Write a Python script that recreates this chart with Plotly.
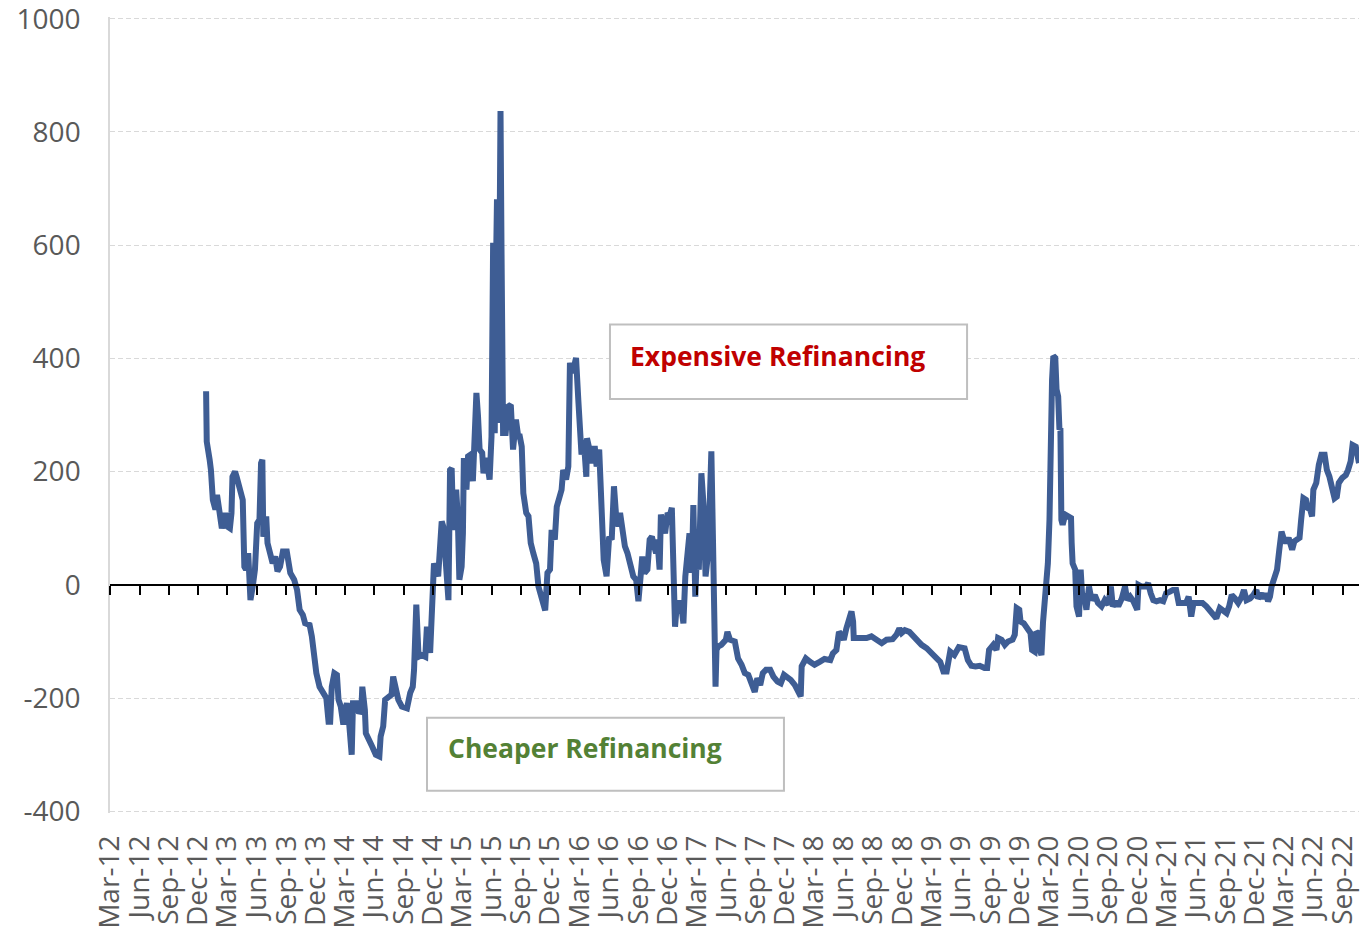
import pandas as pd
import plotly.graph_objects as go

# ---------------- data ----------------
dates = [
    "2012-12-25", "2012-12-27", "2013-01-05", "2013-01-09", "2013-01-15", "2013-01-23", "2013-01-28",
    "2013-02-05", "2013-02-12", "2013-02-23", "2013-03-01", "2013-03-09", "2013-03-14", "2013-03-17",
    "2013-03-25", "2013-03-30", "2013-04-07", "2013-04-18", "2013-04-23", "2013-04-28", "2013-05-05",
    "2013-05-12", "2013-05-19", "2013-05-26", "2013-06-02", "2013-06-09", "2013-06-14", "2013-06-18",
    "2013-06-21", "2013-06-30", "2013-07-04", "2013-07-12", "2013-07-20", "2013-07-28", "2013-08-04",
    "2013-08-12", "2013-08-21", "2013-09-02", "2013-09-07", "2013-09-13", "2013-09-25", "2013-10-04",
    "2013-10-12", "2013-10-22", "2013-10-29", "2013-11-12", "2013-11-19", "2013-11-24", "2013-12-03",
    "2013-12-13", "2013-12-25", "2014-01-03", "2014-01-10", "2014-01-15", "2014-01-20", "2014-01-28",
    "2014-02-05", "2014-02-10", "2014-02-17", "2014-02-25", "2014-03-01", "2014-03-08", "2014-03-15",
    "2014-03-23", "2014-03-27", "2014-04-07", "2014-04-15", "2014-04-22", "2014-04-25", "2014-05-03",
    "2014-05-06", "2014-05-18", "2014-05-26", "2014-06-06", "2014-06-17", "2014-06-21", "2014-06-29",
    "2014-07-05", "2014-07-18", "2014-07-25", "2014-07-30", "2014-08-08", "2014-08-15", "2014-08-26",
    "2014-09-11", "2014-09-21", "2014-09-29", "2014-10-03", "2014-10-10", "2014-10-17", "2014-10-27",
    "2014-11-07", "2014-11-12", "2014-11-22", "2014-11-27", "2014-12-04", "2014-12-17", "2014-12-28",
    "2015-01-02", "2015-01-10", "2015-01-18", "2015-01-23", "2015-01-28", "2015-02-02", "2015-02-11",
    "2015-02-16", "2015-02-21", "2015-02-28", "2015-03-04", "2015-03-07", "2015-03-15", "2015-03-20",
    "2015-03-28", "2015-04-04", "2015-04-10", "2015-04-15", "2015-04-20", "2015-04-25", "2015-05-03",
    "2015-05-07", "2015-05-16", "2015-05-26", "2015-06-01", "2015-06-06", "2015-06-09", "2015-06-11",
    "2015-06-15", "2015-06-18", "2015-06-22", "2015-06-25", "2015-06-29", "2015-07-02", "2015-07-07",
    "2015-07-15", "2015-07-23", "2015-07-31", "2015-08-07", "2015-08-16", "2015-08-23", "2015-08-28",
    "2015-09-03", "2015-09-08", "2015-09-17", "2015-09-24", "2015-10-01", "2015-10-09", "2015-10-18",
    "2015-10-25", "2015-11-04", "2015-11-15", "2015-11-22", "2015-11-30", "2015-12-05", "2015-12-15",
    "2015-12-21", "2015-12-29", "2016-01-05", "2016-01-10", "2016-01-19", "2016-01-26", "2016-01-31",
    "2016-02-08", "2016-02-19", "2016-02-26", "2016-03-04", "2016-03-07", "2016-03-14", "2016-03-22",
    "2016-03-24", "2016-04-02", "2016-04-10", "2016-04-17", "2016-04-23", "2016-05-01", "2016-05-05",
    "2016-05-11", "2016-05-15", "2016-05-24", "2016-06-01", "2016-06-09", "2016-06-16", "2016-06-22",
    "2016-06-30", "2016-07-05", "2016-07-13", "2016-07-20", "2016-07-28", "2016-08-05", "2016-08-15",
    "2016-08-24", "2016-08-31", "2016-09-06", "2016-09-12", "2016-09-19", "2016-09-28", "2016-10-05",
    "2016-10-12", "2016-10-19", "2016-10-25", "2016-10-29", "2016-11-05", "2016-11-09", "2016-11-15",
    "2016-11-22", "2016-11-30", "2016-12-06", "2016-12-13", "2016-12-16", "2016-12-23", "2016-12-29",
    "2017-01-08", "2017-01-13", "2017-01-18", "2017-01-24", "2017-01-31", "2017-02-06", "2017-02-13",
    "2017-02-18", "2017-02-24", "2017-03-01", "2017-03-07", "2017-03-15", "2017-03-22", "2017-03-28",
    "2017-04-05", "2017-04-15", "2017-04-20", "2017-04-23", "2017-04-28", "2017-05-01", "2017-05-06",
    "2017-05-16", "2017-05-30", "2017-06-04", "2017-06-12", "2017-06-27", "2017-07-07", "2017-07-18",
    "2017-07-28", "2017-08-08", "2017-08-18", "2017-08-28", "2017-09-05", "2017-09-14", "2017-09-22",
    "2017-10-02", "2017-10-15", "2017-10-25", "2017-11-07", "2017-11-17", "2017-11-27", "2017-12-07",
    "2017-12-18", "2017-12-31", "2018-01-10", "2018-01-18", "2018-01-21", "2018-02-03", "2018-02-16",
    "2018-03-02", "2018-03-18", "2018-04-02", "2018-04-20", "2018-04-28", "2018-05-09", "2018-05-17",
    "2018-05-24", "2018-06-01", "2018-06-09", "2018-06-17", "2018-06-25", "2018-06-30", "2018-07-02",
    "2018-07-21", "2018-08-11", "2018-08-26", "2018-09-11", "2018-09-27", "2018-10-12", "2018-10-31",
    "2018-11-12", "2018-11-21", "2018-11-28", "2018-12-08", "2018-12-22", "2019-01-03", "2019-01-15",
    "2019-01-29", "2019-02-14", "2019-03-01", "2019-03-15", "2019-03-28", "2019-04-07", "2019-04-17",
    "2019-04-28", "2019-05-11", "2019-05-25", "2019-06-12", "2019-06-22", "2019-07-03", "2019-07-16",
    "2019-07-29", "2019-08-13", "2019-08-21", "2019-08-27", "2019-09-09", "2019-09-19", "2019-09-24",
    "2019-10-05", "2019-10-15", "2019-10-25", "2019-11-08", "2019-11-15", "2019-11-21", "2019-11-29",
    "2019-12-03", "2019-12-13", "2019-12-26", "2020-01-03", "2020-01-08", "2020-01-16", "2020-01-21",
    "2020-01-26", "2020-02-01", "2020-02-06", "2020-02-11", "2020-02-16", "2020-02-21", "2020-02-26",
    "2020-03-02", "2020-03-07", "2020-03-10", "2020-03-14", "2020-03-20", "2020-03-24", "2020-03-29",
    "2020-04-02", "2020-04-05", "2020-04-08", "2020-04-12", "2020-04-20", "2020-05-01", "2020-05-08",
    "2020-05-10", "2020-05-13", "2020-05-21", "2020-05-25", "2020-06-02", "2020-06-07", "2020-06-13",
    "2020-06-17", "2020-06-25", "2020-07-03", "2020-07-11", "2020-07-21", "2020-07-31", "2020-08-11",
    "2020-08-21", "2020-09-01", "2020-09-09", "2020-09-15", "2020-09-25", "2020-10-02", "2020-10-13",
    "2020-10-23", "2020-10-30", "2020-11-08", "2020-11-18", "2020-11-30", "2020-12-04", "2020-12-14",
    "2020-12-27", "2021-01-03", "2021-01-11", "2021-01-19", "2021-01-29", "2021-02-09", "2021-02-19",
    "2021-02-28", "2021-03-12", "2021-03-21", "2021-03-31", "2021-04-08", "2021-04-19", "2021-05-01",
    "2021-05-09", "2021-05-17", "2021-05-24", "2021-06-07", "2021-06-21", "2021-07-03", "2021-07-16",
    "2021-07-24", "2021-08-03", "2021-08-14", "2021-08-24", "2021-09-04", "2021-09-12", "2021-09-20",
    "2021-09-30", "2021-10-10", "2021-10-21", "2021-10-28", "2021-11-05", "2021-11-16", "2021-11-26",
    "2021-12-06", "2021-12-11", "2021-12-22", "2021-12-29", "2022-01-04", "2022-01-11", "2022-01-17",
    "2022-01-22", "2022-02-01", "2022-02-08", "2022-02-15", "2022-02-22", "2022-02-28", "2022-03-08",
    "2022-03-16", "2022-03-27", "2022-04-03", "2022-04-10", "2022-04-19", "2022-04-24", "2022-05-01",
    "2022-05-09", "2022-05-14", "2022-05-22", "2022-05-28", "2022-06-01", "2022-06-10", "2022-06-18",
    "2022-06-26", "2022-07-06", "2022-07-13", "2022-07-21", "2022-07-30", "2022-08-06", "2022-08-13",
    "2022-08-19", "2022-08-30", "2022-09-10", "2022-09-17", "2022-09-25", "2022-10-01", "2022-10-11",
    "2022-10-21",
]

spread_bp = [
    342, 253, 221, 203, 150, 133, 159,
    121, 100, 127, 103, 100, 127, 191,
    200, 191, 174, 150, 32, 27, 56,
    -27, -3, 27, 109, 115, 215, 221,
    85, 121, 74, 56, 38, 50, 24,
    32, 59, 59, 41, 21, 9, -9,
    -44, -53, -68, -71, -91, -115, -156,
    -180, -189, -200, -242, -242, -180, -156,
    -159, -203, -215, -247, -227, -209, -244,
    -300, -209, -209, -227, -221, -180, -221,
    -262, -274, -286, -300, -303, -268, -250,
    -203, -197, -194, -162, -180, -203, -215,
    -218, -191, -180, -150, -35, -127, -124,
    -127, -74, -120, -40, 38, 15, 112,
    103, 40, -27, 203, 206, 97, 168,
    121, 9, 32, 91, 224, 168, 227,
    230, 183, 304, 339, 298, 239, 233,
    197, 224, 186, 262, 604, 300, 268,
    560, 681, 286, 600, 837, 598, 268,
    268, 315, 318, 239, 292, 262, 262,
    244, 162, 127, 121, 74, 56, 38,
    -3, -21, -45, 21, 27, 97, 80,
    138, 150, 168, 203, 186, 209, 392,
    374, 401, 327, 262, 230, 256, 191,
    259, 239, 215, 245, 209, 239, 168,
    115, 44, 15, 85, 80, 174, 127,
    103, 127, 91, 68, 56, 32, 15,
    9, -29, 9, 50, 21, 27, 80,
    85, 68, 56, 80, 27, 124, 103,
    91, 127, 121, 136, 80, -74, -32,
    -32, -44, -68, 15, 50, 91, 21,
    141, -21, 56, 27, 197, 138, 15,
    56, 236, 80, -97, -180, -115, -109,
    -106, -97, -83, -97, -100, -130, -141,
    -156, -159, -177, -189, -165, -177, -156,
    -150, -150, -162, -171, -174, -159, -162,
    -168, -177, -189, -197, -144, -130, -136,
    -141, -136, -131, -133, -121, -115, -83,
    -88, -97, -77, -65, -47, -65, -94,
    -94, -94, -91, -96, -103, -97, -96,
    -88, -77, -85, -80, -83, -91, -100,
    -106, -112, -121, -127, -136, -153, -153,
    -118, -124, -110, -112, -133, -143, -144,
    -143, -147, -147, -115, -106, -115, -94,
    -97, -106, -100, -97, -88, -41, -44,
    -65, -68, -77, -85, -115, -118, -83,
    -85, -115, -124, -65, -32, -15, 38,
    115, 333, 362, 404, 401, 345, 333,
    274, 277, 115, 106, 124, 121, 118,
    74, 38, 27, -38, -56, 27, -32,
    -15, -44, -3, -27, -18, -32, -38,
    -27, -35, -3, -38, -29, -38, -24,
    -3, -27, -21, -29, -44, 0, -3,
    -3, 3, -15, -27, -29, -27, -29,
    -15, -12, -9, -9, -32, -32, -32,
    -21, -56, -32, -32, -32, -38, -47,
    -56, -59, -41, -44, -50, -38, -18,
    -24, -32, -21, -9, -27, -24, -18,
    -9, -24, -15, -24, -15, -29, -21,
    -3, 15, 27, 62, 94, 83, 74,
    83, 62, 77, 80, 83, 115, 153,
    150, 136, 133, 121, 168, 180, 212,
    230, 230, 203, 191, 168, 153, 156,
    180, 189, 194, 203, 218, 247, 244,
    215,
]

# axis ticks: one per quarter, labelled like "Mar-12"
quarter_ticks = pd.date_range("2012-03-01", "2022-09-01", freq="3MS")
quarter_labels = [d.strftime("%b-%y") for d in quarter_ticks]
y_ticks = [-400, -200, 0, 200, 400, 600, 800, 1000]
y_tick_labels = ["-400", "-200", "0", "200", "400", "600", "800", "1000"]

x_range = ["2012-03-01", "2022-10-21"]
y_range = [-403, 1003]

LINE_COLOR = "#3E5D94"
TICK_FONT = dict(family="Open Sans, Arial, sans-serif", size=28, color="#595959")

fig = go.Figure()

fig.add_trace(go.Scatter(
    x=dates, y=spread_bp, mode="lines",
    line=dict(color=LINE_COLOR, width=6, shape="linear"),
    hoverinfo="x+y", showlegend=False,
))
# invisible copy bound to the zero-line axis so that axis is rendered
fig.add_trace(go.Scatter(
    x=dates, y=spread_bp, mode="lines", xaxis="x2", yaxis="y",
    line=dict(color="rgba(0,0,0,0)", width=0), hoverinfo="skip", showlegend=False,
))

fig.update_layout(
    width=1363, height=930,
    margin=dict(l=110, r=4, t=17, b=117, autoexpand=False),
    paper_bgcolor="white", plot_bgcolor="white",
    showlegend=False,
    xaxis=dict(
        type="date", range=x_range, automargin=False,
        tickmode="array", tickvals=quarter_ticks, ticktext=quarter_labels,
        tickangle=-90, tickfont=TICK_FONT, ticks="", ticklabelstandoff=16,
        showgrid=False, zeroline=False, showline=False,
    ),
    xaxis2=dict(
        type="date", range=x_range, overlaying="x", anchor="free", automargin=False,
        position=(0 - y_range[0]) / (y_range[1] - y_range[0]),
        tickmode="array", tickvals=quarter_ticks,
        showticklabels=False, ticks="outside", ticklen=9, tickwidth=1.6,
        tickcolor="black", showline=True, linecolor="black", linewidth=2,
        showgrid=False, zeroline=False,
    ),
    yaxis=dict(
        range=y_range, tickmode="array", tickvals=y_ticks, ticktext=y_tick_labels,
        automargin=False,
        tickfont=TICK_FONT, ticks="", ticklabelstandoff=22, ticklabeloverflow="allow",
        showgrid=True, gridcolor="#D9D9D9", gridwidth=1.3, griddash="5px,3px",
        zeroline=False, showline=True, linecolor="#D9D9D9", linewidth=1.5,
    ),
)

# label boxes
BOX_LINE = dict(color="#BFBFBF", width=2)
fig.add_shape(type="rect", xref="paper", yref="paper",
              x0=0.4003, x1=0.6862, y0=0.5202, y1=0.6136,
              line=BOX_LINE, fillcolor="white", layer="above")
fig.add_shape(type="rect", xref="paper", yref="paper",
              x0=0.2538, x1=0.5396, y0=0.0278, y1=0.1196,
              line=BOX_LINE, fillcolor="white", layer="above")

fig.add_annotation(
    text="<b>Expensive Refinancing</b>", xref="paper", yref="paper",
    x=0.4147, y=0.5745, xanchor="left", yanchor="middle", showarrow=False,
    font=dict(family="Open Sans, Arial, sans-serif", size=26.5, color="#C00000"),
)
fig.add_annotation(
    text="<b>Cheaper Refinancing</b>", xref="paper", yref="paper",
    x=0.2690, y=0.0820, xanchor="left", yanchor="middle", showarrow=False,
    font=dict(family="Open Sans, Arial, sans-serif", size=26.5, color="#538135"),
)

fig.write_html(
    "out.html",
    config={"displayModeBar": False},
    post_script="document.body.style.margin='0';document.body.style.overflow='hidden';",
)
